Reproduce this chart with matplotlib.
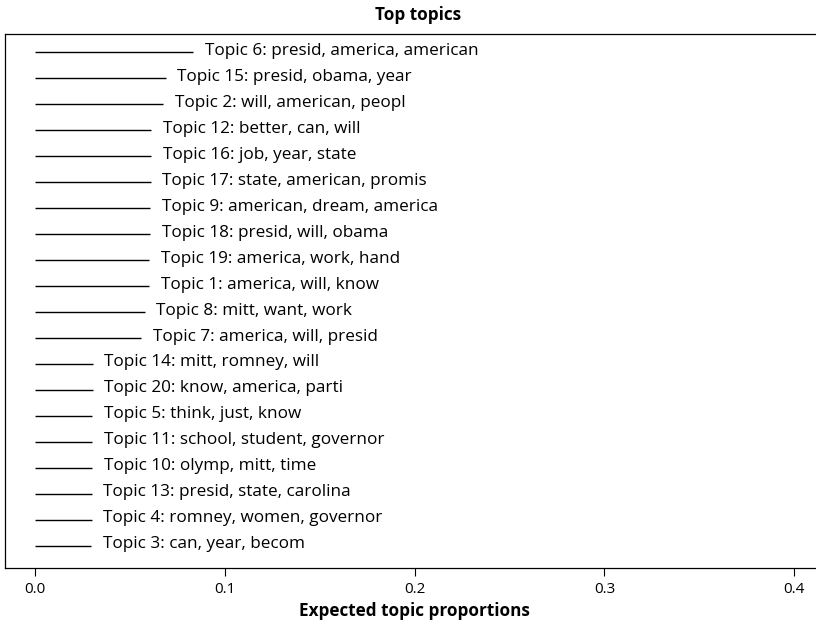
import matplotlib
matplotlib.use("Agg")
import matplotlib.pyplot as plt

# topics listed from the top of the chart down
topic_ids = [6, 15, 2, 12, 16, 17, 9, 18, 19, 1, 8, 7, 14, 20, 5, 11, 10, 13, 4, 3]
top_words = [
    "presid, america, american",
    "presid, obama, year",
    "will, american, peopl",
    "better, can, will",
    "job, year, state",
    "state, american, promis",
    "american, dream, america",
    "presid, will, obama",
    "america, work, hand",
    "america, will, know",
    "mitt, want, work",
    "america, will, presid",
    "mitt, romney, will",
    "know, america, parti",
    "think, just, know",
    "school, student, governor",
    "olymp, mitt, time",
    "presid, state, carolina",
    "romney, women, governor",
    "can, year, becom",
]
proportions = [0.0830, 0.0687, 0.0674, 0.0611, 0.0611, 0.0608, 0.0605, 0.0603,
               0.0600, 0.0598, 0.0576, 0.0558, 0.0302, 0.0302, 0.0300, 0.0299,
               0.0299, 0.0297, 0.0297, 0.0294]
xticks = [0.0, 0.1, 0.2, 0.3, 0.4]

plt.rcParams['font.family'] = ['Open Sans', 'DejaVu Sans']

W, H = 816, 627
fig = plt.figure(figsize=(W / 100, H / 100), dpi=100)
# box spans x 5..824 px (runs off the right edge), y 34..568 px
ax = fig.add_axes([5 / W, 1 - 568 / H, (824.4 - 5) / W, (568 - 34) / H])

n = len(topic_ids)
for k, (tid, words, p) in enumerate(zip(topic_ids, top_words, proportions)):
    y = n - k
    ax.plot([0, p], [y, y], color='black', lw=1.0, solid_capstyle='butt')
    ax.annotate("Topic {}: {}".format(tid, words), xy=(p, y), xytext=(8.5, 1),
                textcoords='offset points', va='center', ha='left', fontsize=12.3)

ax.set_xlim(-0.016, 0.416)
ax.set_ylim(0.133, 20.71)
ax.set_yticks([])
ax.set_xticks(xticks)
ax.set_xticklabels([f"{t:.1f}" for t in xticks], fontsize=11)
ax.tick_params(axis='x', length=6, width=0.8, pad=4)
for s in ax.spines.values():
    s.set_linewidth(0.9)
ax.spines['right'].set_visible(False)

ax.set_xlabel("Expected topic proportions", fontsize=12.3, fontweight='bold', labelpad=4)
fig.text(418 / W, 1 - 15 / H, "Top topics", ha='center', va='center',
         fontsize=12.3, fontweight='bold')

fig.savefig("out.png", dpi=100)
